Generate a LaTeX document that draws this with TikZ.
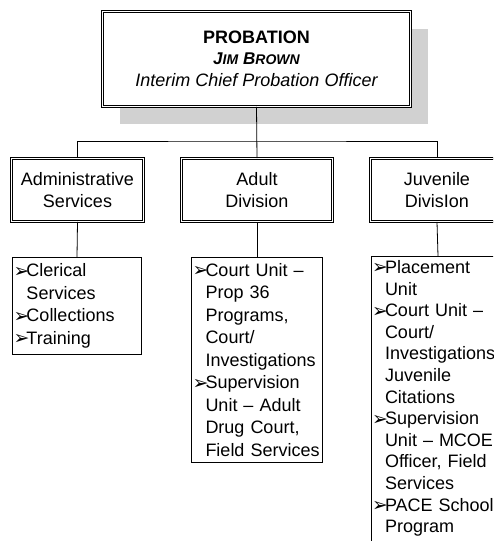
\documentclass[tikz,border=0pt]{standalone}
\usepackage{fontspec}
\setmainfont{Liberation Sans}
\newfontfamily\dingfont{DejaVu Sans}
\usetikzlibrary{shadows}
\newcommand\arrowitem{\makebox[13pt][l]{\dingfont\fontsize{19}{19}\selectfont\raisebox{-0.5pt}{➢}}}
\newcommand\nextline{\hspace*{13pt}}
\tikzset{
  unitbox/.style={draw, fill=white, double, double distance=1.6pt, line width=0.7pt, align=center, inner sep=2pt,
    font=\fontsize{18}{22.5}\selectfont},
  listbox/.style={draw, line width=0.8pt, anchor=north, align=left, inner xsep=1pt, inner ysep=4pt,
    text width=#1, font=\fontsize{18}{22.5}\selectfont},
  link/.style={line width=0.8pt},
}
\begin{document}
\begin{tikzpicture}[x=1pt,y=-1pt]
				\useasboundingbox (0,0) rectangle (493,541);
				\clip (0,0) rectangle (493,541);
				
				% head of the department
				\node[unitbox, minimum width=308, minimum height=95,
				      drop shadow={shadow xshift=17pt, shadow yshift=-17pt, fill=black!18, opacity=1}]
				      (chief) at (256.5,59)
				      {{\bfseries PROBATION}\\[-2pt]
				       {\bfseries\itshape{\fontsize{17}{17}\selectfont J}{\fontsize{14}{14}\selectfont IM}
				        {\fontsize{17}{17}\selectfont B}{\fontsize{14}{14}\selectfont ROWN}}\\
				       {\itshape Interim Chief Probation Officer}};
				
				% divisions
				\node[unitbox, minimum width=132, minimum height=63] (admin) at (77.5,190) {Administrative\\Services};
				\node[unitbox, minimum width=151, minimum height=63] (adult) at (257,190) {Adult\\Division};
				\node[unitbox, minimum width=133, minimum height=63] (juv) at (437,190) {Juvenile\\DivisIon};
				
				\coordinate (bus) at (257,141);
				\draw[link] (chief.south) -- (adult.north);
				\draw[link] (admin.north) |- (bus) -| (juv.north);
				
				% units of each division
				\node[listbox=127, minimum height=97] (adminlist) at (77,257)
				      {\arrowitem Clerical\\ \nextline Services\\ \arrowitem Collections\\ \arrowitem Training};
				\node[listbox=129, minimum height=205] (adultlist) at (257,257)
				      {\arrowitem Court Unit –\\ \nextline Prop 36\\ \nextline Programs,\\ \nextline Court/\\
				       \nextline Investigations\\ \arrowitem Supervision\\ \nextline Unit – Adult\\
				       \nextline Drug Court,\\ \nextline Field Services};
				\node[listbox=132, inner ysep=4pt, font=\fontsize{18}{21.6}\selectfont] (juvlist) at (438,256)
				      {\arrowitem Placement\\ \nextline Unit\\ \arrowitem Court Unit –\\ \nextline Court/\\
				       \nextline Investigations\\ \nextline Juvenile\\ \nextline Citations\\
				       \arrowitem Supervision\\ \nextline Unit – MCOE\\ \nextline Officer, Field\\
				       \nextline Services\\ \arrowitem PACE School\\ \nextline Program\\ \mbox{}};
				
				\draw[link] (admin.south) -- (adminlist.north);
				\draw[link] (adult.south) -- (adultlist.north);
				\draw[link] (juv.south) -- (juvlist.north);
\end{tikzpicture}
\end{document}
